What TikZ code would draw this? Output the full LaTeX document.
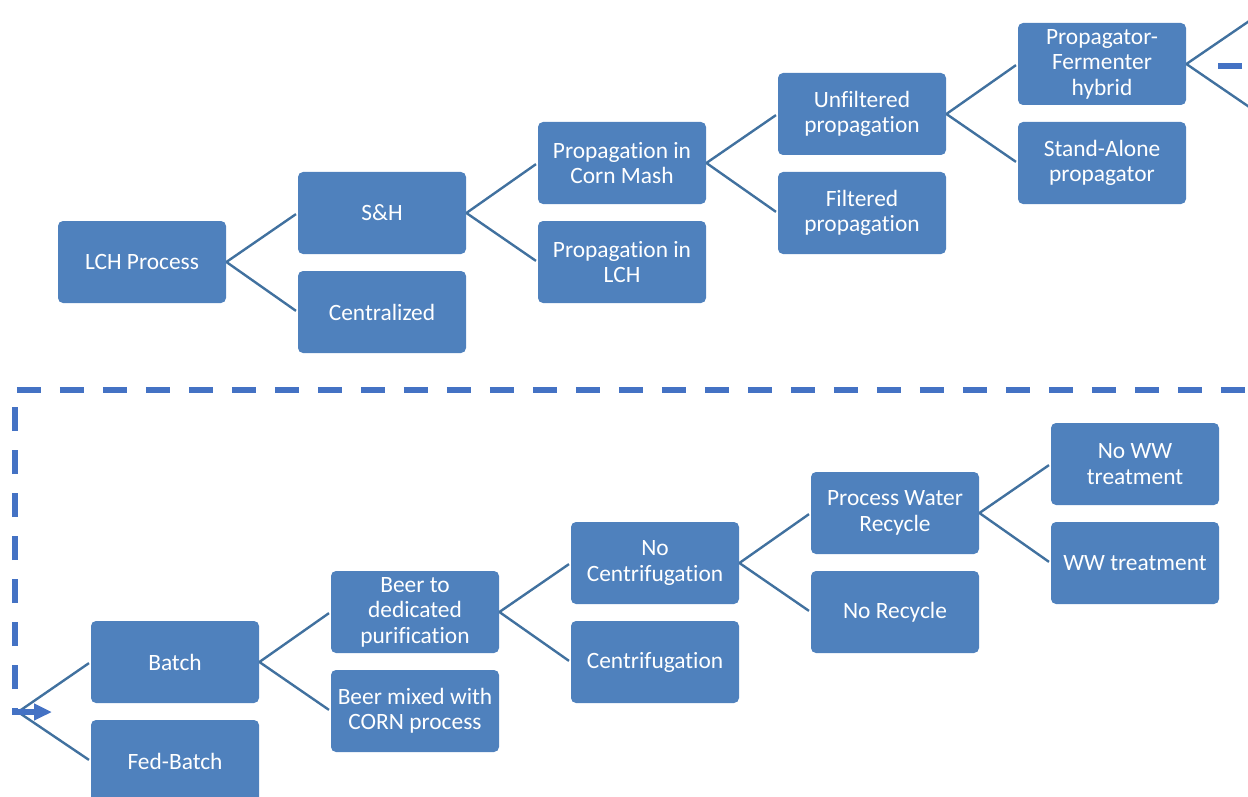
\documentclass[tikz,border=0pt]{standalone}
\usepackage{fontspec}
\setmainfont{Carlito}[Ligatures=NoCommon]
\usetikzlibrary{arrows.meta}

\definecolor{boxblue}{HTML}{4F81BD}
\definecolor{linkblue}{HTML}{41719F}
\definecolor{loopblue}{HTML}{4472C4}

\tikzset{
  stage/.style={fill=boxblue, text=white, rounded corners=2.5pt,
    minimum width=84pt, minimum height=41pt, inner sep=1pt, align=center,
    font=\fontsize{11.7}{12.7}\selectfont},
  link/.style={draw=linkblue, line width=1.2pt, shorten >=1pt},
  loopback/.style={draw=loopblue, line width=3pt, dash pattern=on 12pt off 9.5pt},
}

\begin{document}
\begin{tikzpicture}[x=0.5pt,y=-0.5pt]
  \useasboundingbox (0,0) rectangle (1248,797);
  \clip (0,0) rectangle (1248,797);

  % upper tree: LCH process options
  \node[stage] (lch)     at (142,262) {LCH Process};
  \node[stage] (sh)      at (382,213) {S\&H};
  \node[stage] (central) at (382,312) {Centralized};
  \node[stage] (propcm)  at (622,163) {Propagation in\\Corn Mash};
  \node[stage] (proplch) at (622,262) {Propagation in\\LCH};
  \node[stage] (unfilt)  at (862,114) {Unfiltered\\propagation};
  \node[stage] (filt)    at (862,213) {Filtered\\propagation};
  \node[stage] (hybrid)  at (1102,64) {Propagator-\\Fermenter\\hybrid};
  \node[stage] (alone)   at (1102,163) {Stand-Alone\\propagator};
  \coordinate (hybup) at (1258,15);
  \coordinate (hybdn) at (1258,113);

  % lower tree: fermentation and downstream
  \node[stage] (batch)   at (175,662) {Batch};
  \node[stage] (fed)     at (175,761) {Fed-Batch};
  \node[stage] (beerded) at (415,612) {Beer to\\dedicated\\purification};
  \node[stage] (beermix) at (415,711) {Beer mixed with\\CORN process};
  \node[stage] (nocent)  at (655,563) {No\\Centrifugation};
  \node[stage] (cent)    at (655,662) {Centrifugation};
  \node[stage] (pwr)     at (895,513) {Process Water\\Recycle};
  \node[stage] (norec)   at (895,612) {No Recycle};
  \node[stage] (nowwt)   at (1135,464) {No WW\\treatment};
  \node[stage] (wwt)     at (1135,563) {WW treatment};
  \coordinate (ferm) at (18,712);

  \foreach \a/\b in {lch/sh, lch/central, sh/propcm, sh/proplch,
      propcm/unfilt, propcm/filt, unfilt/hybrid, unfilt/alone,
      batch/beerded, batch/beermix, beerded/nocent, beerded/cent,
      nocent/pwr, nocent/norec, pwr/nowwt, pwr/wwt}
    \draw[link] (\a.east) -- (\b.west);
  \draw[link] (hybrid.east) -- (hybup);
  \draw[link] (hybrid.east) -- (hybdn);
  \draw[link] (ferm) -- (batch.west);
  \draw[link] (ferm) -- (fed.west);

  % dashed return from the hybrid branch
  \coordinate (looptip) at (52,712);
  \coordinate (loopend) at (1217,66);
  \draw[loopback, {Triangle[length=9pt,width=8pt]}-]
    (looptip) -- (15,712) -- (15,390) -- (1306,390) -- (1306,66) -- (loopend);
\end{tikzpicture}
\end{document}
